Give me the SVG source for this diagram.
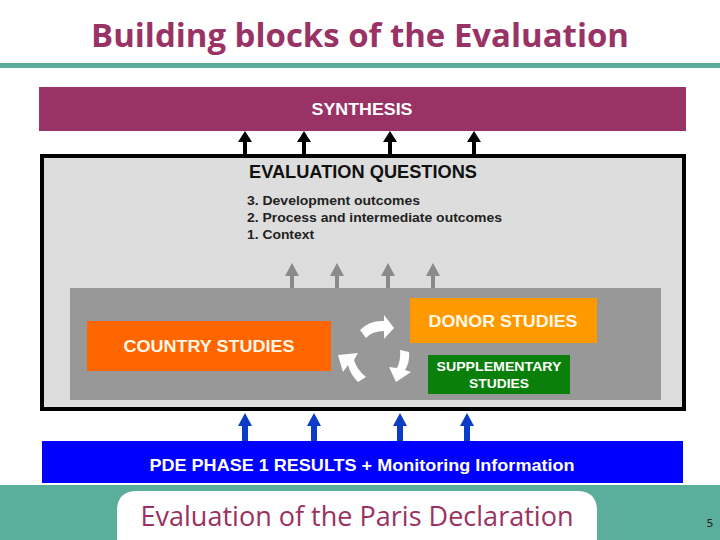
<svg xmlns="http://www.w3.org/2000/svg" width="720" height="540" viewBox="0 0 720 540">
<style>
.b{font-family:"Liberation Sans",Arial,sans-serif;font-weight:bold}
.w{fill:#ffffff}
.cw{fill:#fff8e6}
.ka{fill:#000000}
.ga{fill:#8a8a8a}
.ba{fill:#0a3cc8}
.cyc{fill:#ffffff}
</style>
<rect x="0" y="0" width="720" height="540" fill="#ffffff"/>
<g id="title">
<text x="360" y="47" text-anchor="middle" font-family="'Open Sans','Liberation Sans',sans-serif" font-weight="bold" font-size="33" fill="#993366" textLength="538" lengthAdjust="spacingAndGlyphs">Building blocks of the Evaluation</text>
<rect x="0" y="63" width="720" height="5" fill="#5bae9b"/>
</g>
<g id="synthesis">
<rect x="39" y="87" width="647" height="44" fill="#993366"/>
<text class="b w" x="362" y="115" text-anchor="middle" font-size="16" textLength="101" lengthAdjust="spacingAndGlyphs">SYNTHESIS</text>
</g>
<g id="evaluation-questions">
<rect x="42" y="156" width="642" height="253" fill="#dddddd" stroke="#000000" stroke-width="4"/>
<text class="b" x="249" y="178" font-size="17.5" fill="#111111" textLength="228" lengthAdjust="spacingAndGlyphs">EVALUATION QUESTIONS</text>
<text class="b" x="247" y="205" font-size="13" fill="#222222" textLength="173" lengthAdjust="spacingAndGlyphs">3. Development outcomes</text>
<text class="b" x="247" y="222" font-size="13" fill="#222222" textLength="255" lengthAdjust="spacingAndGlyphs">2. Process and intermediate outcomes</text>
<text class="b" x="247" y="239" font-size="13" fill="#222222" textLength="67" lengthAdjust="spacingAndGlyphs">1. Context</text>
</g>
<g id="studies-area">
<rect x="70" y="288" width="591" height="112" fill="#989898"/>
</g>
<g id="country-studies">
<rect x="87" y="321" width="244" height="50" fill="#ff6600"/>
<text class="b cw" x="209" y="352" text-anchor="middle" font-size="16" textLength="171" lengthAdjust="spacingAndGlyphs">COUNTRY STUDIES</text>
</g>
<g id="donor-studies">
<rect x="410" y="298" width="187" height="45" fill="#ff9900"/>
<text class="b cw" x="503" y="327" text-anchor="middle" font-size="16" textLength="149" lengthAdjust="spacingAndGlyphs">DONOR STUDIES</text>
</g>
<g id="supplementary-studies">
<rect x="428" y="355" width="142" height="39" fill="#0a7f0a"/>
<text class="b w" x="499" y="371" text-anchor="middle" font-size="12.5" textLength="125" lengthAdjust="spacingAndGlyphs">SUPPLEMENTARY</text>
<text class="b w" x="499" y="388" text-anchor="middle" font-size="12.5" textLength="60" lengthAdjust="spacingAndGlyphs">STUDIES</text>
</g>
<g id="pde-results">
<rect x="42" y="441" width="641" height="42" fill="#0000ff"/>
<text class="b w" x="362" y="471" text-anchor="middle" font-size="17" textLength="425" lengthAdjust="spacingAndGlyphs">PDE PHASE 1 RESULTS + Monitoring Information</text>
</g>
<g id="connectors">
<g class="ka">
<path d="M243 154 V142 H238 L245 131 L252 142 H247 V154 Z"/>
<path d="M302 154 V142 H297 L304 131 L311 142 H306 V154 Z"/>
<path d="M388 154 V142 H383 L390 131 L397 142 H392 V154 Z"/>
<path d="M472 154 V142 H467 L474 131 L481 142 H476 V154 Z"/>
</g>
<g class="ga">
<path d="M290 288 V276 H285 L292 263 L299 276 H294 V288 Z"/>
<path d="M335 288 V276 H330 L337 263 L344 276 H339 V288 Z"/>
<path d="M386 288 V276 H381 L388 263 L395 276 H390 V288 Z"/>
<path d="M431 288 V276 H426 L433 263 L440 276 H435 V288 Z"/>
</g>
<g class="ba">
<path d="M242 441 V426 H238 L245 413 L252 426 H248 V441 Z"/>
<path d="M311 441 V426 H307 L314 413 L321 426 H317 V441 Z"/>
<path d="M397 441 V426 H393 L400 413 L407 426 H403 V441 Z"/>
<path d="M464 441 V426 H460 L467 413 L474 426 H470 V441 Z"/>
</g>
<g class="cyc">
<path d="M360 330 Q370 320 384 321 L384 315 L394 328 L384 339 L384 331 Q372 331 366 338 Z"/>
<path d="M400 350 L409 352 Q410 362 405 370 L411 372 L396 382 L389 367 L397 368 Q401 360 400 350 Z"/>
<path d="M366 377 L358 382 Q350 374 348 365 L343 372 L338 355 L358 353 L354 360 Q357 370 366 377 Z"/>
</g>
</g>
<g id="footer">
<rect x="0" y="485" width="720" height="55" fill="#5bae9b"/>
<path d="M117 540 V511 Q117 491 137 491 H577 Q597 491 597 511 V540 Z" fill="#ffffff"/>
<text x="357" y="526" text-anchor="middle" font-family="'Open Sans','Liberation Sans',sans-serif" font-size="27" fill="#9b3160" textLength="433" lengthAdjust="spacingAndGlyphs">Evaluation of the Paris Declaration</text>
<text x="710" y="527" text-anchor="middle" font-family="'DejaVu Sans','Liberation Sans',sans-serif" font-size="11" fill="#222222">5</text>
</g>
</svg>
